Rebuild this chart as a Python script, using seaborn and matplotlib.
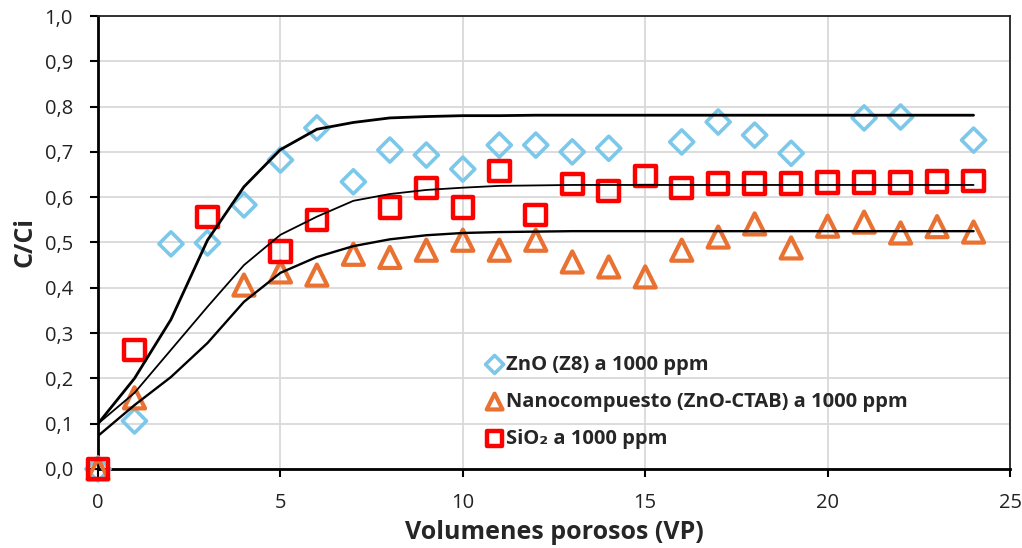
import numpy as np
import pandas as pd
import matplotlib
matplotlib.use("Agg")
import matplotlib.pyplot as plt
import seaborn as sns
from matplotlib.ticker import FuncFormatter, MultipleLocator

# ---- data ----
vp = list(range(0, 25))

zno_x = [0, 1, 2, 3, 4, 5, 6, 7, 8, 9, 10, 11, 12, 13, 14, 16, 17, 18, 19, 21, 22, 24]
zno_y = [0.0, 0.106, 0.497, 0.499, 0.583, 0.682, 0.753, 0.634, 0.704, 0.693, 0.662,
         0.715, 0.715, 0.700, 0.708, 0.722, 0.766, 0.737, 0.697, 0.775, 0.777, 0.726]

ctab_x = [0, 1, 4, 5, 6, 7, 8, 9, 10, 11, 12, 13, 14, 15, 16, 17, 18, 19, 20, 21, 22, 23, 24]
ctab_y = [0.0, 0.157, 0.406, 0.435, 0.428, 0.474, 0.467, 0.483, 0.505, 0.483, 0.505,
          0.457, 0.446, 0.424, 0.483, 0.512, 0.541, 0.488, 0.536, 0.545, 0.521, 0.535, 0.523]

sio2_x = [0, 1, 3, 5, 6, 8, 9, 10, 11, 12, 13, 14, 15, 16, 17, 18, 19, 20, 21, 22, 23, 24]
sio2_y = [0.0, 0.263, 0.556, 0.480, 0.550, 0.577, 0.620, 0.577, 0.658, 0.561, 0.629,
          0.614, 0.647, 0.620, 0.630, 0.630, 0.630, 0.632, 0.633, 0.633, 0.634, 0.636]

# fitted model curves (values at each VP)
fit_zno = [0.100, 0.200, 0.330, 0.505, 0.623, 0.705, 0.750, 0.765, 0.775, 0.778, 0.780,
           0.780, 0.781, 0.781, 0.781, 0.781, 0.781, 0.781, 0.781, 0.781, 0.781, 0.781,
           0.781, 0.781, 0.781]
fit_sio2 = [0.100, 0.168, 0.263, 0.358, 0.450, 0.517, 0.557, 0.592, 0.607, 0.616, 0.621,
            0.625, 0.626, 0.627, 0.627, 0.627, 0.627, 0.627, 0.627, 0.627, 0.627, 0.627,
            0.627, 0.627, 0.627]
fit_ctab = [0.073, 0.141, 0.203, 0.278, 0.369, 0.433, 0.468, 0.492, 0.507, 0.516, 0.521,
            0.523, 0.524, 0.525, 0.525, 0.525, 0.525, 0.525, 0.525, 0.525, 0.525, 0.525,
            0.525, 0.525, 0.525]

labels = ["ZnO (Z8) a 1000 ppm",
          "Nanocompuesto (ZnO-CTAB) a 1000 ppm",
          "SiO\u2082 a 1000 ppm"]
colors = ["#7CC8EA", "#E97132", "#FF0000"]

# ---- plot ----
sns.set_style("white")
plt.rcParams["font.family"] = ["Open Sans", "DejaVu Sans"]

fig = plt.figure(figsize=(10.22, 5.48), dpi=100)
ax = fig.add_axes([0.0959, 0.1442, 0.8924, 0.8266])

ax.grid(True, color="#d9d9d9", linewidth=1.3, zorder=0)
ax.set_axisbelow(True)

sns.scatterplot(x=zno_x, y=zno_y, ax=ax, marker="D", s=150, facecolors="none",
                edgecolor=colors[0], linewidth=2.6, label=labels[0], zorder=3, clip_on=False)
sns.scatterplot(x=ctab_x, y=ctab_y, ax=ax, marker="^", s=230, facecolors="none",
                edgecolor=colors[1], linewidth=3.0, label=labels[1], zorder=4, clip_on=False)
sns.scatterplot(x=sio2_x, y=sio2_y, ax=ax, marker="s", s=220, facecolors="none",
                edgecolor=colors[2], linewidth=3.2, label=labels[2], zorder=5, clip_on=False)

sns.lineplot(x=vp, y=fit_zno, ax=ax, color="black", linewidth=2.0, zorder=6, legend=False)
sns.lineplot(x=vp, y=fit_sio2, ax=ax, color="black", linewidth=1.3, zorder=6, legend=False)
sns.lineplot(x=vp, y=fit_ctab, ax=ax, color="black", linewidth=1.7, zorder=6, legend=False)

ax.set_xlim(0, 25)
ax.set_ylim(0, 1.0)
ax.xaxis.set_major_locator(MultipleLocator(5))
ax.yaxis.set_major_locator(MultipleLocator(0.1))
ax.yaxis.set_major_formatter(FuncFormatter(lambda v, p: f"{v:.1f}".replace(".", ",")))
ax.xaxis.set_major_formatter(FuncFormatter(lambda v, p: f"{int(round(v))}"))

for s in ["left", "bottom"]:
    ax.spines[s].set_color("black")
    ax.spines[s].set_linewidth(2.0)
for s in ["top", "right"]:
    ax.spines[s].set_color("#222222")
    ax.spines[s].set_linewidth(1.3)

ax.tick_params(axis="both", which="major", direction="out", length=6, width=1.5,
               color="black", labelsize=14.5, labelcolor="#222222")
ax.tick_params(axis="x", pad=11)
ax.tick_params(axis="y", left=True, pad=12)
ax.tick_params(axis="x", bottom=True)

ax.set_xlabel("Volumenes porosos (VP)", fontsize=18, fontweight="bold", labelpad=5)
ax.set_ylabel("C/Ci", fontsize=18, fontweight="bold", labelpad=5)

leg = ax.legend(loc="upper left", bbox_to_anchor=(0.415, 0.27), frameon=False,
                fontsize=14.5, handletextpad=0.05, borderaxespad=0, labelspacing=0.85,
                handlelength=1.0, markerscale=0.75)
for t in leg.get_texts():
    t.set_fontweight("bold")

fig.savefig("out.png", dpi=100)
